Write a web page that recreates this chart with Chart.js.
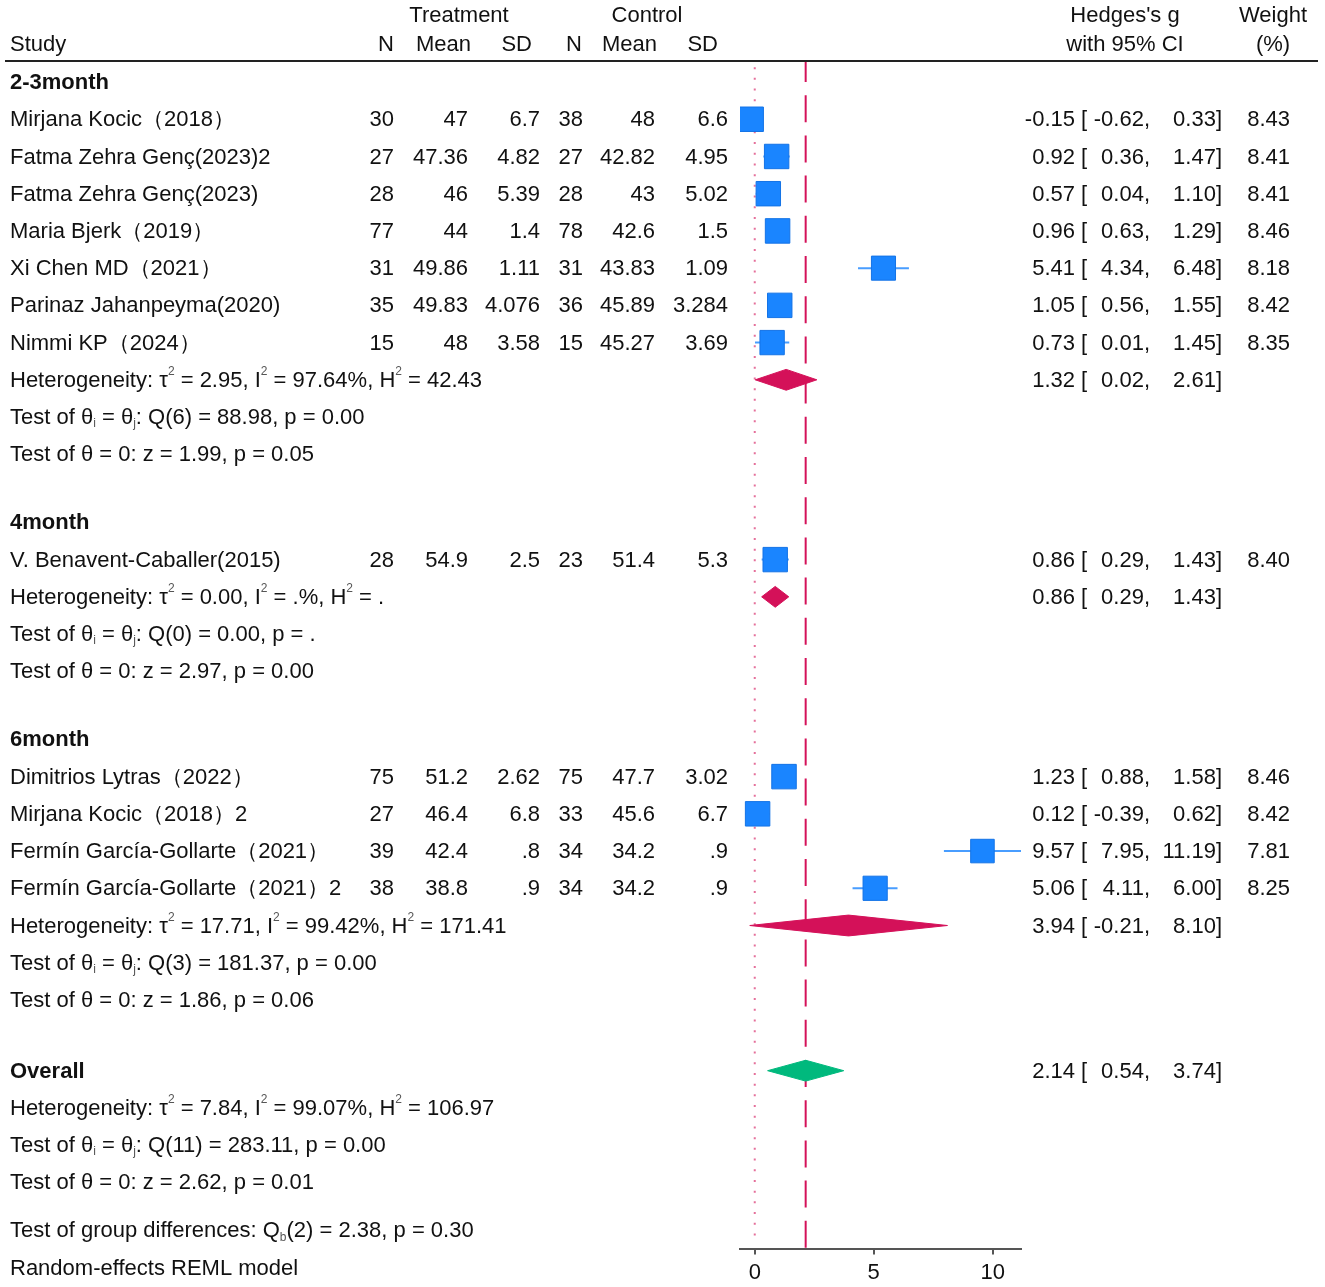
<!DOCTYPE html>
<html>
<head>
<meta charset="utf-8">
<script src="https://cdn.jsdelivr.net/npm/chart.js@4.4.1/dist/chart.umd.min.js"></script>
<style>
  html, body { margin: 0; padding: 0; background: #fff; }
  #wrap { width: 1325px; height: 1287px; }
</style>
</head>
<body>
<div id="wrap"><canvas id="forest" width="1325" height="1287"></canvas></div>
<script>
// ---- data ----
const groupNames = ["2-3month", "4month", "6month"];

const studies = [
  "Mirjana Kocic（2018）",
  "Fatma Zehra Genç(2023)2",
  "Fatma Zehra Genç(2023)",
  "Maria Bjerk（2019）",
  "Xi Chen MD（2021）",
  "Parinaz Jahanpeyma(2020)",
  "Nimmi KP（2024）",
  "V. Benavent-Caballer(2015)",
  "Dimitrios Lytras（2022）",
  "Mirjana Kocic（2018）2",
  "Fermín García-Gollarte（2021）",
  "Fermín García-Gollarte（2021）2"
];
const studyGroup = [0, 0, 0, 0, 0, 0, 0, 1, 2, 2, 2, 2];

const treatN    = ["30", "27", "28", "77", "31", "35", "15", "28", "75", "27", "39", "38"];
const treatMean = ["47", "47.36", "46", "44", "49.86", "49.83", "48", "54.9", "51.2", "46.4", "42.4", "38.8"];
const treatSD   = ["6.7", "4.82", "5.39", "1.4", "1.11", "4.076", "3.58", "2.5", "2.62", "6.8", ".8", ".9"];
const ctrlN     = ["38", "27", "28", "78", "31", "36", "15", "23", "75", "33", "34", "34"];
const ctrlMean  = ["48", "42.82", "43", "42.6", "43.83", "45.89", "45.27", "51.4", "47.7", "45.6", "34.2", "34.2"];
const ctrlSD    = ["6.6", "4.95", "5.02", "1.5", "1.09", "3.284", "3.69", "5.3", "3.02", "6.7", ".9", ".9"];

const hedgesG = [-0.15, 0.92, 0.57, 0.96, 5.41, 1.05, 0.73, 0.86, 1.23, 0.12, 9.57, 5.06];
const ciLow   = [-0.62, 0.36, 0.04, 0.63, 4.34, 0.56, 0.01, 0.29, 0.88, -0.39, 7.95, 4.11];
const ciHigh  = [0.33, 1.47, 1.10, 1.29, 6.48, 1.55, 1.45, 1.43, 1.58, 0.62, 11.19, 6.00];
const weights = [8.43, 8.41, 8.41, 8.46, 8.18, 8.42, 8.35, 8.40, 8.46, 8.42, 7.81, 8.25];

const groupG    = [1.32, 0.86, 3.94];
const groupLow  = [0.02, 0.29, -0.21];
const groupHigh = [2.61, 1.43, 8.10];
const groupHet = [
  "Heterogeneity: τ^2 = 2.95, I^2 = 97.64%, H^2 = 42.43",
  "Heterogeneity: τ^2 = 0.00, I^2 = .%, H^2 = .",
  "Heterogeneity: τ^2 = 17.71, I^2 = 99.42%, H^2 = 171.41"
];
const groupQ = [
  "Test of θ_i = θ_j: Q(6) = 88.98, p = 0.00",
  "Test of θ_i = θ_j: Q(0) = 0.00, p = .",
  "Test of θ_i = θ_j: Q(3) = 181.37, p = 0.00"
];
const groupZ = [
  "Test of θ = 0: z = 1.99, p = 0.05",
  "Test of θ = 0: z = 2.97, p = 0.00",
  "Test of θ = 0: z = 1.86, p = 0.06"
];

const overallG = 2.14, overallLow = 0.54, overallHigh = 3.74;
const overallLines = [
  "Heterogeneity: τ^2 = 7.84, I^2 = 99.07%, H^2 = 106.97",
  "Test of θ_i = θ_j: Q(11) = 283.11, p = 0.00",
  "Test of θ = 0: z = 2.62, p = 0.01"
];
const footLines = [
  "Test of group differences: Q_b(2) = 2.38, p = 0.30",
  "Random-effects REML model"
];

const xTicks = [0, 5, 10];
const xMin = -0.62, xMax = 11.19;

// ---- row layout (one unit = one text line) ----
const studyRow = [], groupRow = [], titleRow = [];
let cur = 0;
groupNames.forEach((name, gi) => {
  if (gi > 0) cur += 1.83;
  titleRow[gi] = cur;
  studies.forEach((s, i) => { if (studyGroup[i] === gi) { cur += 1; studyRow[i] = cur; } });
  cur += 1; groupRow[gi] = cur;
  cur += 2;
});
const overallRow = cur + 1.9;
const footRow = overallRow + 3 + 1.29;
const yMin = -0.538, yMax = 31.34;

// ---- styles ----
const FONT = '"Liberation Sans", Arial, sans-serif';
const FS = 22;
const INK = '#111';
const BLUE = 'rgb(26,133,255)';
const CRIMSON = 'rgb(212,17,89)';
const GREEN = 'rgb(0,185,125)';

function diamond(g, lo, hi, y, h) {
  return [{x: lo, y: y}, {x: g, y: y - h}, {x: hi, y: y}, {x: g, y: y + h}, {x: lo, y: y}];
}

const datasets = [];
datasets.push({
  type: 'line', data: [{x: 0, y: -0.4}, {x: 0, y: 31.2}],
  borderColor: 'rgba(212,17,89,0.6)', borderWidth: 2, borderDash: [2, 8.7],
  pointRadius: 0, order: 10
});
datasets.push({
  type: 'line', data: [{x: overallG, y: yMin}, {x: overallG, y: yMax}],
  borderColor: CRIMSON, borderWidth: 2, borderDash: [27, 13.2], borderDashOffset: 7,
  pointRadius: 0, order: 9
});
studies.forEach((s, i) => {
  datasets.push({
    type: 'line', data: [{x: ciLow[i], y: studyRow[i]}, {x: ciHigh[i], y: studyRow[i]}],
    borderColor: 'rgba(26,133,255,0.8)', borderWidth: 2, pointRadius: 0, order: 5
  });
});
datasets.push({
  type: 'scatter',
  data: studies.map((s, i) => ({x: hedgesG[i], y: studyRow[i]})),
  pointStyle: 'rect',
  pointRadius: weights.map(w => 24.5 * Math.sqrt(w / 8.46) / Math.SQRT2),
  backgroundColor: BLUE, borderColor: 'rgb(20,115,230)', borderWidth: 1, order: 2
});
groupNames.forEach((n, gi) => {
  datasets.push({
    type: 'line', data: diamond(groupG[gi], groupLow[gi], groupHigh[gi], groupRow[gi], 0.28),
    borderColor: CRIMSON, backgroundColor: CRIMSON, borderWidth: 1, fill: 'shape',
    pointRadius: 0, tension: 0, order: 1
  });
});
datasets.push({
  type: 'line', data: diamond(overallG, overallLow, overallHigh, overallRow, 0.28),
  borderColor: GREEN, backgroundColor: GREEN, borderWidth: 1, fill: 'shape',
  pointRadius: 0, tension: 0, order: 1
});

// text with ^x superscripts and _x subscripts
function drawRich(ctx, str, x, y, align, bold) {
  const main = (bold ? 'bold ' : '') + FS + 'px ' + FONT;
  const mini = '12px ' + FONT;
  const parts = str.split(/([\^_].)/).filter(p => p.length);
  let w = 0;
  parts.forEach(p => {
    const m = p[0] === '^' || p[0] === '_';
    ctx.font = m ? mini : main;
    w += ctx.measureText(m ? p.slice(1) : p).width;
  });
  let cx = align === 'right' ? x - w : align === 'center' ? x - w / 2 : x;
  ctx.textAlign = 'left';
  ctx.textBaseline = 'middle';
  parts.forEach(p => {
    const sup = p[0] === '^', sub = p[0] === '_';
    const t = (sup || sub) ? p.slice(1) : p;
    ctx.font = (sup || sub) ? mini : main;
    ctx.fillStyle = (sup || sub) ? '#555' : INK;
    ctx.fillText(t, cx, y + 1 + (sup ? -9 : sub ? 6 : 0));
    cx += ctx.measureText(t).width;
  });
}

function ciText(ctx, y, g, lo, hi, w) {
  drawRich(ctx, g.toFixed(2), 1075, y, 'right');
  drawRich(ctx, '[', 1081, y, 'left');
  drawRich(ctx, lo.toFixed(2) + ',', 1150, y, 'right');
  drawRich(ctx, hi.toFixed(2) + ']', 1222, y, 'right');
  if (w !== undefined) drawRich(ctx, w.toFixed(2), 1290, y, 'right');
}

const tablePlugin = {
  id: 'forestTable',
  afterDraw(chart) {
    const ctx = chart.ctx;
    const py = v => chart.scales.y.getPixelForValue(v);
    ctx.save();
    // header
    const h1 = py(-1.8), h2 = py(-1.02);
    drawRich(ctx, 'Treatment', 459, h1, 'center');
    drawRich(ctx, 'Control', 647, h1, 'center');
    drawRich(ctx, "Hedges's g", 1125, h1, 'center');
    drawRich(ctx, 'Weight', 1273, h1, 'center');
    drawRich(ctx, 'Study', 10, h2, 'left');
    drawRich(ctx, 'N', 394, h2, 'right');
    drawRich(ctx, 'Mean', 471, h2, 'right');
    drawRich(ctx, 'SD', 532, h2, 'right');
    drawRich(ctx, 'N', 582, h2, 'right');
    drawRich(ctx, 'Mean', 657, h2, 'right');
    drawRich(ctx, 'SD', 718, h2, 'right');
    drawRich(ctx, 'with 95% CI', 1125, h2, 'center');
    drawRich(ctx, '(%)', 1273, h2, 'center');
    ctx.strokeStyle = '#222';
    ctx.lineWidth = 2;
    ctx.beginPath();
    ctx.moveTo(5, py(-0.565));
    ctx.lineTo(1318, py(-0.565));
    ctx.stroke();

    groupNames.forEach((name, gi) => {
      drawRich(ctx, name, 10, py(titleRow[gi]), 'left', true);
      drawRich(ctx, groupHet[gi], 10, py(groupRow[gi]), 'left');
      drawRich(ctx, groupQ[gi], 10, py(groupRow[gi] + 1), 'left');
      drawRich(ctx, groupZ[gi], 10, py(groupRow[gi] + 2), 'left');
      ciText(ctx, py(groupRow[gi]), groupG[gi], groupLow[gi], groupHigh[gi]);
    });
    studies.forEach((name, i) => {
      const y = py(studyRow[i]);
      drawRich(ctx, name, 10, y, 'left');
      drawRich(ctx, treatN[i], 394, y, 'right');
      drawRich(ctx, treatMean[i], 468, y, 'right');
      drawRich(ctx, treatSD[i], 540, y, 'right');
      drawRich(ctx, ctrlN[i], 583, y, 'right');
      drawRich(ctx, ctrlMean[i], 655, y, 'right');
      drawRich(ctx, ctrlSD[i], 728, y, 'right');
      ciText(ctx, y, hedgesG[i], ciLow[i], ciHigh[i], weights[i]);
    });
    drawRich(ctx, 'Overall', 10, py(overallRow), 'left', true);
    ciText(ctx, py(overallRow), overallG, overallLow, overallHigh);
    overallLines.forEach((t, k) => drawRich(ctx, t, 10, py(overallRow + 1 + k), 'left'));
    footLines.forEach((t, k) => drawRich(ctx, t, 10, py(footRow + k), 'left'));
    ctx.restore();
  }
};

new Chart(document.getElementById('forest'), {
  type: 'scatter',
  data: { datasets: datasets },
  options: {
    responsive: false,
    animation: false,
    layout: { padding: { left: 740, right: 304, top: 62, bottom: -4 } },
    plugins: { legend: { display: false }, tooltip: { enabled: false } },
    scales: {
      x: {
        type: 'linear', min: xMin, max: xMax,
        afterBuildTicks: axis => { axis.ticks = xTicks.map(v => ({ value: v })); },
        grid: { drawOnChartArea: false, drawTicks: true, tickLength: 6, color: '#555', lineWidth: 2 },
        border: { display: true, color: '#555', width: 2 },
        ticks: { color: '#111', font: { family: FONT, size: FS }, padding: 5 }
      },
      y: { type: 'linear', reverse: true, min: yMin, max: yMax, display: false }
    }
  },
  plugins: [tablePlugin]
});
</script>
</body>
</html>
